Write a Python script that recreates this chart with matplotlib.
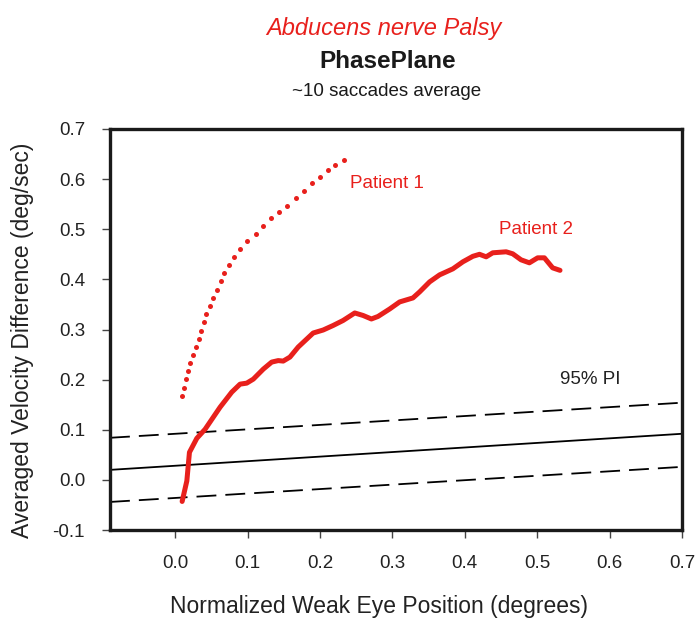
import numpy as np
import matplotlib.pyplot as plt

plt.rcParams['font.family'] = ['Liberation Sans', 'DejaVu Sans']

RED = '#e8201c'

# patient 1 (dotted trace)
p1_x = [0.0096, 0.0128, 0.0152, 0.0183, 0.0211, 0.0252, 0.0289, 0.0327, 0.0358,
        0.0395, 0.0431, 0.0478, 0.0528, 0.0579, 0.0630, 0.0675, 0.0740, 0.0813,
        0.0896, 0.0996, 0.1112, 0.1217, 0.1327, 0.1437, 0.1548, 0.1664, 0.1774,
        0.1884, 0.1994, 0.2104, 0.2214, 0.2329]
p1_y = [0.168, 0.183, 0.201, 0.217, 0.233, 0.249, 0.266, 0.282, 0.298,
        0.314, 0.331, 0.347, 0.363, 0.379, 0.396, 0.412, 0.429, 0.445,
        0.461, 0.477, 0.491, 0.507, 0.523, 0.535, 0.547, 0.563, 0.576,
        0.592, 0.605, 0.619, 0.629, 0.639]

# patient 2 (solid trace)
p2_x = [0.0096, 0.0161, 0.0197, 0.0299, 0.0413, 0.062, 0.0781, 0.0896, 0.0988,
        0.1079, 0.1217, 0.1333, 0.1423, 0.1492, 0.1585, 0.1699, 0.1906, 0.2044,
        0.2181, 0.2319, 0.248, 0.2595, 0.271, 0.2801, 0.2963, 0.31, 0.3284,
        0.3376, 0.3514, 0.3652, 0.3835, 0.3973, 0.4111, 0.4203, 0.4295, 0.4386,
        0.4571, 0.4662, 0.4777, 0.4892, 0.5006, 0.5099, 0.5213, 0.5315]
p2_y = [-0.043, -0.002, 0.055, 0.083, 0.101, 0.145, 0.175, 0.191, 0.193,
        0.201, 0.221, 0.235, 0.238, 0.237, 0.245, 0.265, 0.293, 0.299,
        0.308, 0.318, 0.333, 0.328, 0.321, 0.326, 0.341, 0.355, 0.363,
        0.375, 0.395, 0.409, 0.421, 0.435, 0.446, 0.45, 0.445, 0.453,
        0.455, 0.451, 0.439, 0.433, 0.443, 0.443, 0.423, 0.418]

# normative regression line and 95% prediction interval
pi_x = [-0.09, 0.7]
pi_mean = [0.020, 0.092]
pi_upper = [0.084, 0.154]
pi_lower = [-0.044, 0.026]

xticks = [0.0, 0.1, 0.2, 0.3, 0.4, 0.5, 0.6, 0.7]
yticks = [-0.1, 0.0, 0.1, 0.2, 0.3, 0.4, 0.5, 0.6, 0.7]

fig = plt.figure(figsize=(6.99, 6.24), dpi=100)
ax = fig.add_axes([0.1574, 0.1506, 0.8183, 0.6427])

ax.plot(pi_x, pi_mean, color='black', lw=1.3)
ax.plot(pi_x, pi_upper, color='black', lw=1.3, dashes=(11, 5))
ax.plot(pi_x, pi_lower, color='black', lw=1.3, dashes=(11, 5))

ax.plot(p1_x, p1_y, 'o', color=RED, ms=3.6, mec='none')
ax.plot(p2_x, p2_y, '-', color=RED, lw=3.6, solid_capstyle='round',
        solid_joinstyle='round')

ax.text(0.293, 0.592, 'Patient 1', color=RED, fontsize=13.5, ha='center', va='center')
ax.text(0.499, 0.500, 'Patient 2', color=RED, fontsize=13.5, ha='center', va='center')
ax.text(0.573, 0.200, '95% PI', color='#222222', fontsize=13.5, ha='center', va='center')

ax.set_xlim(-0.09, 0.7)
ax.set_ylim(-0.1, 0.7)
ax.set_xticks(xticks)
ax.set_yticks(yticks)
ax.set_xticklabels(['%.1f' % v for v in xticks])
ax.set_yticklabels(['%.1f' % v for v in yticks])
ax.tick_params(direction='out', length=6, width=1.0, labelsize=13.5,
               labelcolor='#222222', color='#444444', pad=12)
for s in ax.spines.values():
    s.set_linewidth(2.4)
    s.set_color('#1a1a1a')

fig.text(0.549, 0.955, 'Abducens nerve Palsy', color=RED, fontsize=17,
         style='italic', ha='center', va='center')
fig.text(0.555, 0.901, 'PhasePlane', color='#1a1a1a', fontsize=17.5,
         weight='bold', ha='center', va='center')
fig.text(0.553, 0.853, '~10 saccades average', color='#1a1a1a', fontsize=13.5,
         ha='center', va='center')
fig.text(0.542, 0.028, 'Normalized Weak Eye Position (degrees)', color='#222222',
         fontsize=16.5, ha='center', va='center')
fig.text(0.032, 0.455, 'Averaged Velocity Difference (deg/sec)', color='#222222',
         fontsize=16.5, rotation=90, ha='center', va='center')

fig.savefig('out.png', dpi=100)
